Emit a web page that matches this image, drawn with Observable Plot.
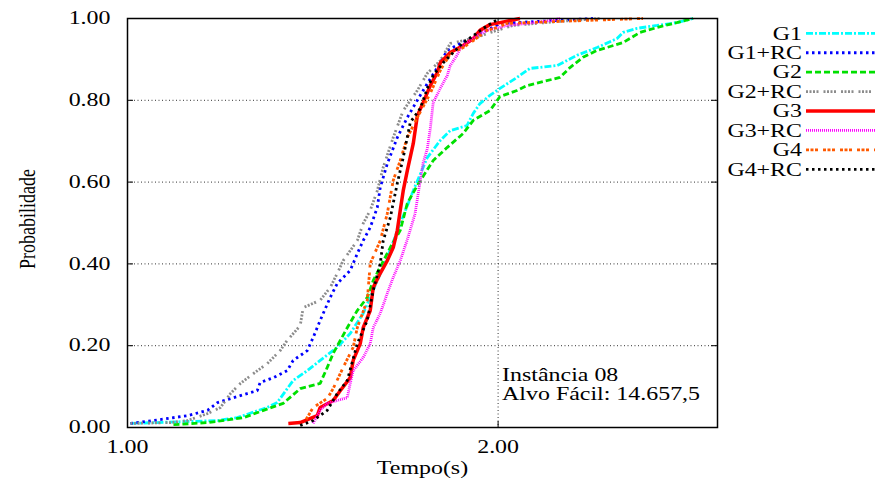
<!DOCTYPE html>
<html><head><meta charset="utf-8">
<script src="https://cdn.jsdelivr.net/npm/d3@7"></script>
<script src="https://cdn.jsdelivr.net/npm/@observablehq/plot@0.6"></script>
<style>body{margin:0;background:#fff}</style>
</head><body><div id="chart"></div>
<script>
// ---- data ----
const seriesNames = ["G1", "G1+RC", "G2", "G2+RC", "G3", "G3+RC", "G4", "G4+RC"];

const tG1 = [1.008,1.243,1.296,1.377,1.404,1.447,1.485,1.520,1.566,1.601,1.636,1.674,1.701,1.736,1.771,1.809,1.844,1.871,1.916,1.933,1.951,1.978,2.005,2.051,2.086,2.159,2.213,2.267,2.321,2.337,2.375,2.429,2.482,2.526];
const pG1 = [0.010,0.017,0.024,0.049,0.061,0.115,0.139,0.164,0.196,0.230,0.279,0.359,0.416,0.499,0.579,0.660,0.702,0.726,0.738,0.768,0.792,0.812,0.829,0.856,0.878,0.885,0.910,0.929,0.951,0.966,0.976,0.983,0.990,1.000];

const tG1RC = [1.008,1.070,1.162,1.216,1.243,1.286,1.323,1.350,1.358,1.394,1.431,1.447,1.485,1.501,1.520,1.547,1.566,1.601,1.620,1.636,1.655,1.674,1.682,1.701,1.728,1.755,1.782,1.809,1.836,1.863,1.898,1.933,1.970,2.005,2.113,2.256];
const pG1RC = [0.010,0.017,0.029,0.042,0.061,0.073,0.083,0.090,0.110,0.122,0.139,0.164,0.188,0.220,0.262,0.318,0.352,0.384,0.425,0.457,0.489,0.538,0.587,0.645,0.709,0.758,0.800,0.841,0.880,0.922,0.939,0.954,0.971,0.988,0.993,1.000];

const tG2 = [1.124,1.216,1.313,1.367,1.420,1.466,1.520,1.539,1.555,1.593,1.609,1.620,1.647,1.663,1.709,1.736,1.755,1.782,1.825,1.863,1.906,1.933,1.978,2.005,2.051,2.078,2.167,2.194,2.229,2.267,2.337,2.383,2.429,2.482,2.526];
const pG2 = [0.007,0.012,0.024,0.042,0.059,0.095,0.108,0.147,0.181,0.244,0.269,0.286,0.318,0.359,0.440,0.482,0.548,0.592,0.653,0.685,0.719,0.751,0.775,0.809,0.824,0.836,0.856,0.880,0.905,0.922,0.941,0.966,0.978,0.990,1.000];

const tG2RC = [1.008,1.116,1.162,1.216,1.251,1.278,1.305,1.340,1.377,1.412,1.431,1.466,1.474,1.520,1.547,1.566,1.582,1.620,1.636,1.655,1.674,1.690,1.717,1.744,1.782,1.809,1.844,1.871,1.906,1.943,1.970,1.997,2.040,2.167,2.275];
const pG2RC = [0.010,0.012,0.017,0.034,0.049,0.083,0.108,0.132,0.156,0.188,0.213,0.249,0.293,0.311,0.342,0.377,0.408,0.457,0.499,0.531,0.579,0.636,0.709,0.775,0.824,0.866,0.897,0.939,0.946,0.954,0.963,0.971,0.983,0.993,1.000];

const tG3 = [1.434,1.466,1.512,1.520,1.555,1.574,1.601,1.609,1.628,1.636,1.655,1.663,1.682,1.701,1.717,1.728,1.736,1.744,1.755,1.771,1.782,1.798,1.817,1.836,1.844,1.871,1.906,1.933,1.951,1.978,2.005,2.059];
const pG3 = [0.010,0.012,0.029,0.049,0.066,0.090,0.122,0.164,0.205,0.244,0.286,0.342,0.377,0.408,0.440,0.482,0.531,0.579,0.628,0.694,0.762,0.795,0.836,0.868,0.892,0.917,0.934,0.951,0.971,0.985,0.990,1.000];

const tG3RC = [1.501,1.520,1.539,1.593,1.601,1.609,1.636,1.655,1.663,1.682,1.701,1.717,1.736,1.757,1.776,1.790,1.798,1.809,1.817,1.825,1.844,1.863,1.871,1.889,1.898,1.916,1.943,1.970,2.024,2.078,2.140,2.167];
const pG3RC = [0.010,0.042,0.059,0.073,0.108,0.139,0.171,0.205,0.244,0.279,0.328,0.367,0.408,0.465,0.523,0.604,0.648,0.682,0.731,0.795,0.829,0.861,0.885,0.910,0.927,0.941,0.958,0.971,0.983,0.988,0.995,1.000];

const tG4 = [1.482,1.501,1.539,1.555,1.582,1.609,1.620,1.647,1.655,1.682,1.701,1.717,1.736,1.755,1.782,1.817,1.844,1.871,1.906,1.933,1.970,1.997,2.024,2.167,2.391];
const pG4 = [0.020,0.049,0.071,0.095,0.147,0.196,0.244,0.311,0.401,0.457,0.523,0.604,0.653,0.709,0.758,0.817,0.873,0.914,0.929,0.946,0.971,0.978,0.988,0.993,1.000];

const tG4RC = [1.466,1.501,1.539,1.566,1.593,1.620,1.647,1.663,1.682,1.690,1.709,1.728,1.744,1.763,1.790,1.809,1.825,1.852,1.879,1.906,1.933,1.960,2.003];
const pG4RC = [0.005,0.017,0.042,0.083,0.115,0.205,0.262,0.335,0.401,0.457,0.513,0.597,0.660,0.746,0.780,0.829,0.861,0.892,0.917,0.941,0.958,0.976,1.000];

const xTicks = [1, 2];
const yTicks = [0, 0.2, 0.4, 0.6, 0.8, 1];
const xLabel = "Tempo(s)";
const yLabel = "Probabilidade";
const annotation = "Instância 08\nAlvo Fácil: 14.657,5";

// ---- styles ----
const seriesColors = ["#00ffff", "#0000ff", "#00e000", "#8c8c8c", "#ff0000", "#ff00ff", "#ff5a00", "#000000"];
const seriesDashes = ["7,2,2,2", "2.5,3.5", "6,3", "2,1.5,2,1.5,2,1.5,2,5", null, "1,1", "3,1.5,3,1.5,3,5", "2.5,3.5"];
const seriesWidths = [2.8, 2.8, 2.8, 2.8, 3.5, 2.8, 2.8, 2.8];

const times = [tG1, tG1RC, tG2, tG2RC, tG3, tG3RC, tG4, tG4RC];
const probs = [pG1, pG1RC, pG2, pG2RC, pG3, pG3RC, pG4, pG4RC];
const rows = seriesNames.flatMap((s, i) => times[i].map((t, j) => ({series: s, t, p: probs[i][j]})));

const lineMarks = seriesNames.map((s, i) => Plot.line(rows.filter(d => d.series === s), {
  x: "t", y: "p",
  stroke: seriesColors[i],
  strokeWidth: seriesWidths[i],
  strokeDasharray: seriesDashes[i] ?? undefined,
  strokeLinejoin: "miter",
  strokeLinecap: "butt"
}));

function legendMark(index, scales, values, dimensions) {
  const W = dimensions ? dimensions.width : 878;
  const MR = dimensions ? dimensions.marginRight : 161;
  const x0 = W - MR;
  const g = d3.create("svg:g");
  seriesNames.forEach((s, i) => {
    const y = 33.3 + i * 19.43;
    g.append("text")
      .attr("transform", `translate(${x0 + 85},${y})`)
      .attr("text-anchor", "end")
      .attr("dy", "0.35em")
      .attr("fill", "black")
      .text(s);
    g.append("line")
      .attr("x1", x0 + 89).attr("x2", x0 + 158)
      .attr("y1", y).attr("y2", y)
      .attr("stroke", seriesColors[i])
      .attr("stroke-width", seriesWidths[i])
      .attr("stroke-dasharray", seriesDashes[i])
      .attr("stroke-linecap", "butt");
  });
  return g.node();
}

const chart = Plot.plot({
  width: 878,
  height: 485,
  marginLeft: 127,
  marginRight: 161,
  marginTop: 18,
  marginBottom: 58,
  x: {domain: [1, 2.592]},
  y: {domain: [0, 1]},
  style: {fontFamily: "'Liberation Serif', 'Times New Roman', serif", fontSize: "18px", background: "white", color: "black"},
  marks: [
    Plot.ruleY(yTicks, {stroke: "#333", strokeWidth: 1, strokeDasharray: "1,2.5"}),
    Plot.ruleX(xTicks, {stroke: "#333", strokeWidth: 1, strokeDasharray: "1,2.5"}),
    Plot.tickY(yTicks, {stroke: "black", strokeWidth: 1, insetRight: 584}),
    Plot.tickY(yTicks, {stroke: "black", strokeWidth: 1, insetLeft: 584}),
    Plot.tickX(xTicks, {stroke: "black", strokeWidth: 1, insetTop: 403}),
    Plot.tickX(xTicks, {stroke: "black", strokeWidth: 1, insetBottom: 403}),
    ...lineMarks,
    Plot.frame({stroke: "black", strokeWidth: 1.5}),
    Plot.axisY(yTicks, {tickFormat: d3.format(".2f"), tickSize: 0, tickPadding: 17, label: null, fontSize: 18}),
    Plot.axisX(xTicks, {tickFormat: d3.format(".2f"), tickSize: 0, tickPadding: 13, label: null, fontSize: 18}),
    Plot.text([xLabel], {text: d => d, frameAnchor: "bottom", dy: 41, textAnchor: "middle", lineAnchor: "middle", fontSize: 18}),
    Plot.text([yLabel], {text: d => d, frameAnchor: "left", dx: -100, dy: -4, rotate: -90, textAnchor: "middle", lineAnchor: "middle", fontSize: 18}),
    Plot.text([annotation], {text: d => d, x: () => 2, y: () => 0.106, dx: 4, textAnchor: "start", lineAnchor: "middle", lineHeight: 1.05, fontSize: 18}),
    legendMark
  ]
});

document.getElementById("chart").append(chart);

// horizontal stretch of the serif text, like the reference
chart.querySelectorAll("text").forEach(el => {
  const tr = el.getAttribute("transform");
  if (tr) {
    el.setAttribute("transform", tr + (tr.includes("rotate") ? " scale(1,1.33)" : " scale(1.33,1)"));
  } else {
    const x = +(el.getAttribute("x") || 0);
    el.setAttribute("transform", `translate(${x},0) scale(1.33,1) translate(${-x},0)`);
  }
});
</script>
</body></html>
